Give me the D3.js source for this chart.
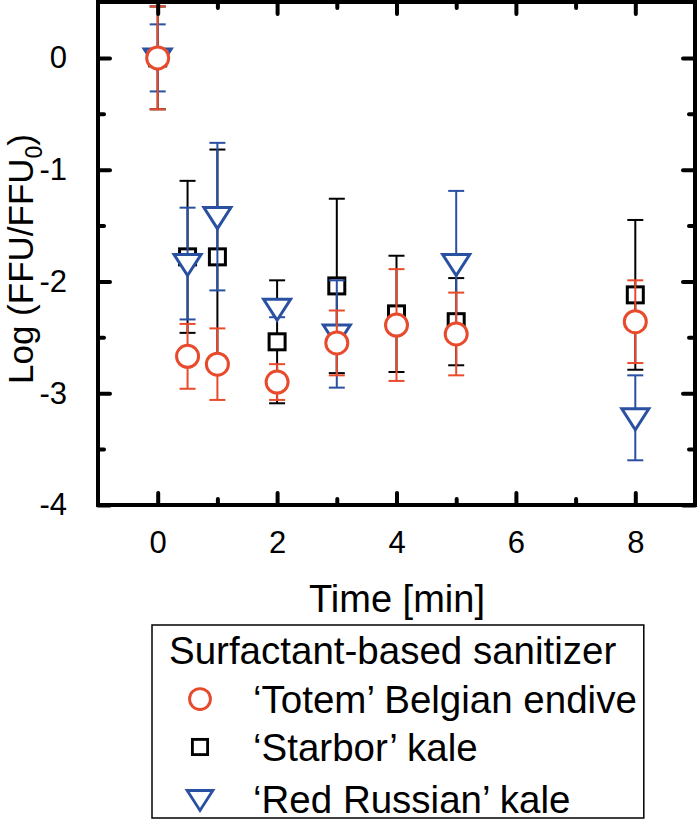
<!DOCTYPE html>
<html>
<head>
<meta charset="utf-8">
<script src="https://cdn.jsdelivr.net/npm/d3@7"></script>
<style>
  body { margin: 0; background: #fff; }
  text { font-family: "Liberation Sans", Arial, sans-serif; }
</style>
</head>
<body>
<div id="chart"></div>
<script>
var width = 700,
  height = 823;

// time points [min]
var times = [0, 0.5, 1, 2, 3, 4, 5, 8];

// 'Totem' Belgian endive
var totemY = [0, -2.67, -2.74, -2.90, -2.55, -2.39, -2.47, -2.36];
var totemErr = [0.46, 0.29, 0.32, 0.16, 0.29, 0.50, 0.37, 0.37];

// 'Starbor' kale
var starborY = [0, -1.78, -1.78, -2.54, -2.04, -2.29, -2.36, -2.12];
var starborErr = [0.46, 0.68, 0.96, 0.55, 0.78, 0.52, 0.39, 0.67];

// 'Red Russian' kale (no point at 4 min)
var russianTimes = [0, 0.5, 1, 2, 3, 5, 8];
var russianY = [0, -1.84, -1.42, -2.24, -2.47, -1.84, -3.22];
var russianErr = [0.30, 0.50, 0.66, 0.08, 0.48, 0.65, 0.38];

var xTicks = [0, 2, 4, 6, 8];
var yTicks = [0, -1, -2, -3, -4];
var legendTitle = "Surfactant-based sanitizer";
var legendNames = ["\u2018Totem\u2019 Belgian endive", "\u2018Starbor\u2019 kale", "\u2018Red Russian\u2019 kale"];

var red = "#e84a2c",
  blue = "#2a50a2",
  black = "#000000";

var margin = {left: 98, right: 5, top: 2, bottom: 318};

var x = d3.scaleLinear().domain([-1, 9]).range([margin.left, width - margin.right]);
var y = d3.scaleLinear().domain([-4, 0.5]).range([height - margin.bottom, margin.top]);

var svg = d3.select("#chart").append("svg")
  .attr("width", width)
  .attr("height", height);

var series = [
  {t: times, v: starborY, e: starborErr, color: black, shape: "square"},
  {t: russianTimes, v: russianY, e: russianErr, color: blue, shape: "triangle"},
  {t: times, v: totemY, e: totemErr, color: red, shape: "circle"}
];

function drawMarker(g, shape, color) {
  if (shape == "circle") {
    g.append("circle").attr("r", 11).attr("fill", "#fff")
      .attr("stroke", color).attr("stroke-width", 3);
  } else if (shape == "square") {
    g.append("rect").attr("x", -8).attr("y", -8).attr("width", 16).attr("height", 16)
      .attr("fill", "#fff").attr("stroke", color).attr("stroke-width", 3);
  } else {
    g.append("path").attr("d", "M-13.5,-9L13.5,-9L0,12Z")
      .attr("fill", "#fff").attr("stroke", color).attr("stroke-width", 3);
  }
}

series.forEach(function (s) {
  var pts = s.t.map(function (t, i) { return {t: t, v: s.v[i], e: s.e[i]}; });
  var eg = svg.append("g").attr("stroke", s.color).attr("stroke-width", 2);
  pts.forEach(function (d) {
    var cx = x(d.t);
    eg.append("line").attr("x1", cx).attr("x2", cx)
      .attr("y1", y(d.v + d.e)).attr("y2", y(d.v - d.e));
    [d.v + d.e, d.v - d.e].forEach(function (yy) {
      eg.append("line").attr("x1", cx - 8).attr("x2", cx + 8)
        .attr("y1", y(yy)).attr("y2", y(yy));
    });
  });
  pts.forEach(function (d) {
    var g = svg.append("g").attr("transform", "translate(" + x(d.t) + "," + y(d.v) + ")");
    drawMarker(g, s.shape, s.color);
  });
});

// frame and ticks
var axisStyle = function (g) {
  g.select(".domain").remove();
  g.selectAll(".tick line").attr("stroke", "#000").attr("stroke-width", 4).attr("stroke-linecap", "round");
  g.selectAll(".tick text").attr("font-size", 31).attr("fill", "#000").attr("font-family", "Liberation Sans, Arial, sans-serif");
};

var xMinor = [1, 3, 5, 7];
var yMinor = [-3.5, -2.5, -1.5, -0.5];
var fmt = function (d) { return String(d); };

svg.append("g").attr("transform", "translate(0," + y(-4) + ")")
  .call(d3.axisBottom(x).tickValues(xTicks).tickSize(-12).tickPadding(26).tickFormat(fmt))
  .call(axisStyle);
svg.append("g").attr("transform", "translate(0," + y(-4) + ")")
  .call(d3.axisBottom(x).tickValues(xMinor).tickSize(-6).tickFormat(""))
  .call(axisStyle);
svg.append("g").attr("transform", "translate(0," + y(0.5) + ")")
  .call(d3.axisTop(x).tickValues(xTicks).tickSize(-12).tickFormat(""))
  .call(axisStyle);
svg.append("g").attr("transform", "translate(0," + y(0.5) + ")")
  .call(d3.axisTop(x).tickValues(xMinor).tickSize(-6).tickFormat(""))
  .call(axisStyle);

svg.append("g").attr("transform", "translate(" + x(-1) + ",0)")
  .call(d3.axisLeft(y).tickValues(yTicks).tickSize(-12).tickPadding(31).tickFormat(fmt))
  .call(axisStyle);
svg.append("g").attr("transform", "translate(" + x(-1) + ",0)")
  .call(d3.axisLeft(y).tickValues(yMinor).tickSize(-6).tickFormat(""))
  .call(axisStyle);
svg.append("g").attr("transform", "translate(" + x(9) + ",0)")
  .call(d3.axisRight(y).tickValues(yTicks).tickSize(-12).tickFormat(""))
  .call(axisStyle);
svg.append("g").attr("transform", "translate(" + x(9) + ",0)")
  .call(d3.axisRight(y).tickValues(yMinor).tickSize(-6).tickFormat(""))
  .call(axisStyle);

svg.append("rect")
  .attr("x", x(-1)).attr("y", y(0.5))
  .attr("width", x(9) - x(-1)).attr("height", y(-4) - y(0.5))
  .attr("fill", "none").attr("stroke", "#000").attr("stroke-width", 4);

// axis titles
svg.append("text")
  .attr("x", 397).attr("y", 612)
  .attr("text-anchor", "middle").attr("font-size", 38)
  .text("Time [min]");

var yl = svg.append("text")
  .attr("transform", "translate(33," + 259 + ") rotate(-90)")
  .attr("text-anchor", "middle").attr("font-size", 35);
yl.append("tspan").text("Log (FFU/FFU");
yl.append("tspan").attr("font-size", 23).attr("dy", 9).text("0");
yl.append("tspan").attr("dy", -9).text(")");

// legend
var lg = svg.append("g");
var box = lg.append("rect")
  .attr("x", 152).attr("y", 625).attr("height", 193)
  .attr("fill", "#fff").attr("stroke", "#000").attr("stroke-width", 1.5);
var tt = lg.append("text").attr("x", 169).attr("y", 664).attr("font-size", 38.5).text(legendTitle);
var legendRows = [
  {name: legendNames[0], color: red, shape: "circle"},
  {name: legendNames[1], color: black, shape: "square"},
  {name: legendNames[2], color: blue, shape: "triangle"}
];
var rowY = [699, 747, 799];
var maxW = tt.node().getComputedTextLength() + 169;
legendRows.forEach(function (r, i) {
  var g = lg.append("g").attr("transform", "translate(200," + rowY[i] + ") scale(0.95)");
  drawMarker(g, r.shape, r.color);
  var t = lg.append("text").attr("x", 253).attr("y", rowY[i] + 14).attr("font-size", 38.5).text(r.name);
  maxW = Math.max(maxW, 253 + t.node().getComputedTextLength());
});
box.attr("width", maxW + 7 - 152);
</script>
</body>
</html>
